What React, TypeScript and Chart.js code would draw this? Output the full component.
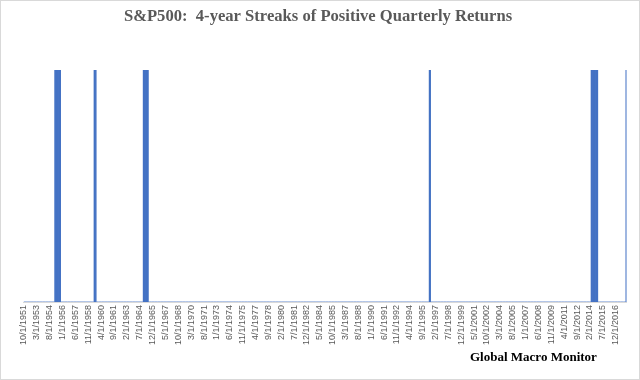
import React, { useEffect, useRef } from "react";
import { Chart, registerables } from "chart.js";

Chart.register(...registerables);

// Monthly categories, first and last month on the axis
const START_MONTH = { year: 1951, month: 10 };
const END_MONTH = { year: 2018, month: 2 };
// Show every Nth category label
const LABEL_STEP = 17;
// Months flagged as inside a 4-year streak of positive quarterly returns
const streakStarts = ["3/1/1955", "7/1/1959", "12/1/1964", "6/1/1996", "4/1/2014", "2/1/2018"];
const streakEnds = ["10/1/1955", "9/1/1959", "6/1/1965", "7/1/1996", "12/1/2014", "2/1/2018"];

const TITLE = "S&P500:  4-year Streaks of Positive Quarterly Returns";
const SOURCE = "Global Macro Monitor";

function buildCategories(): string[] {
  const out: string[] = [];
  let y = START_MONTH.year;
  let m = START_MONTH.month;
  while (y < END_MONTH.year || (y === END_MONTH.year && m <= END_MONTH.month)) {
    out.push(`${m}/1/${y}`);
    m++;
    if (m > 12) { m = 1; y++; }
  }
  return out;
}

const categories = buildCategories();
const streakValues = (() => {
  const vals = categories.map(() => 0);
  streakStarts.forEach((s, i) => {
    const a = categories.indexOf(s);
    const b = categories.indexOf(streakEnds[i]);
    for (let k = a; k <= b; k++) vals[k] = 1;
  });
  return vals;
})();

export default function App() {
  const ref = useRef<HTMLCanvasElement>(null);
  useEffect(() => {
    document.body.style.margin = "0";
    const overlay = {
      id: "overlay",
      afterDraw(chart: any) {
        const ctx = chart.ctx;
        ctx.save();
        ctx.strokeStyle = "#d9d9d9";
        ctx.lineWidth = 1;
        ctx.strokeRect(0.5, 0.5, chart.width - 1, chart.height - 1);
        ctx.fillStyle = "#595959";
        ctx.font = "bold 16.6px 'Liberation Serif'";
        ctx.textAlign = "center";
        ctx.textBaseline = "middle";
        ctx.fillText(TITLE, 318, 17);
        ctx.fillStyle = "#000000";
        ctx.font = "bold 13px 'Liberation Serif'";
        ctx.textAlign = "left";
        ctx.fillText(SOURCE, 470, 358);
        ctx.restore();
      },
    };
    const chart = new Chart(ref.current!, {
      type: "bar",
      data: {
        labels: categories,
        datasets: [
          {
            data: streakValues,
            backgroundColor: "#4472C4",
            borderWidth: 0,
            categoryPercentage: 1,
            barPercentage: 1,
          },
        ],
      },
      options: {
        animation: false,
        responsive: false,
        maintainAspectRatio: false,
        layout: { padding: { left: 23.6, right: 11, top: 70, bottom: 0 } },
        plugins: { legend: { display: false }, tooltip: { enabled: false }, title: { display: false } },
        scales: {
          x: {
            grid: { display: false, drawTicks: false },
            border: { display: true, color: "#d9d9d9" },
            afterFit: (s: any) => { s.height = 78; },
            ticks: {
              autoSkip: false,
              maxRotation: 90,
              minRotation: 90,
              padding: 3,
              color: "#595959",
              font: { family: "'Liberation Sans'", size: 9 },
              callback: (_v: any, i: number) => (i % LABEL_STEP === 0 ? categories[i] : ""),
            },
          },
          y: { display: false, min: 0, max: 1 },
        },
      },
      plugins: [overlay],
    });
    return () => chart.destroy();
  }, []);
  return (
    <div style={{ width: 640, height: 380 }}>
      <canvas ref={ref} width={640} height={380} />
    </div>
  );
}
